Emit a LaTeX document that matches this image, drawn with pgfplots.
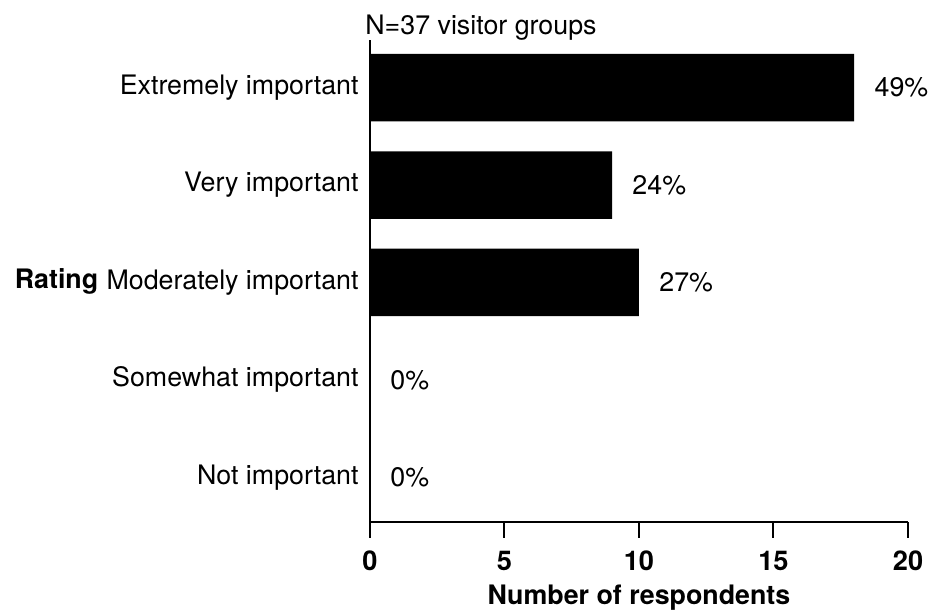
\documentclass[border=0pt]{standalone}
\usepackage{fontspec}
\setmainfont{TeX Gyre Heros}
\usepackage{pgfplots}
\pgfplotsset{compat=1.18}
\begin{document}
\begin{tikzpicture}
\path[use as bounding box] (-185pt,-44pt) rectangle (283pt,261pt);
\begin{axis}[
  at={(0,0)}, anchor=south west,
  scale only axis, width=269pt, height=241pt,
  xbar, bar width=33.75pt,
  xmin=0, xmax=20, ymin=-0.46, ymax=4.49,
  axis x line*=bottom, axis y line*=left,
  axis line style={line width=1pt, -},
  xtick={0,5,10,15,20},
  xtick align=outside,
  ytick align=inside,
  x tick style={line width=1pt, black},
  major tick length=8pt,
  ytick={0,1,2,3,4},
  yticklabels={Not important, Somewhat important, Moderately important, Very important, Extremely important},
  y tick style={draw=none},
  yticklabel style={inner sep=5.5pt},
  font=\fontsize{13.4}{16}\selectfont,
  xticklabel style={font=\fontsize{13.6}{16}\selectfont\bfseries, yshift=-3pt},
  /pgf/number format/assume math mode=true,
  xlabel={\textbf{Number of respondents}},
  ylabel={\textbf{Rating}},
  every axis y label/.style={at={(ticklabel cs:0.5)}, anchor=east, inner sep=0pt, xshift=1.5pt},
  clip=false,
  point meta=explicit,
  nodes near coords={\pgfmathprintnumber{\pgfplotspointmeta}\%},
  every node near coord/.append style={anchor=west, inner sep=0pt, xshift=10pt, font=\fontsize{13.4}{16}\selectfont},
]
\addplot[fill=black, draw=none] coordinates {
  (18,4) [49]
  (9,3) [24]
  (10,2) [27]
  (0,1) [0]
  (0,0) [0]
};
\node[anchor=base west, inner sep=0pt, xshift=-2.5pt, yshift=2.5pt] at (rel axis cs:0,1) {N=37 visitor groups};
\end{axis}
\end{tikzpicture}
\end{document}
